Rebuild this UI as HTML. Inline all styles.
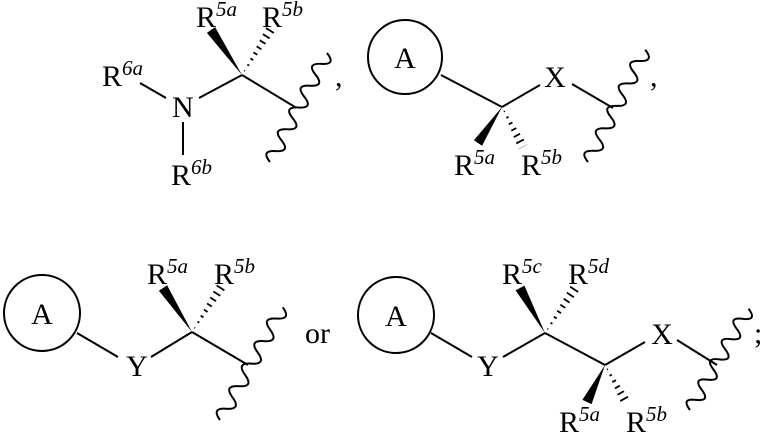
<!DOCTYPE html>
<html><head><meta charset="utf-8"><style>
html,body{margin:0;padding:0;background:#fff;}
svg{display:block;}
text{font-family:"Liberation Serif",serif;font-size:30px;fill:#000;}
.s{font-size:21px;font-style:italic;}
</style></head><body>
<svg width="765" height="434" viewBox="0 0 765 434" xmlns="http://www.w3.org/2000/svg">
<defs>
<clipPath id="h1"><polygon points="242,75 276.3,29.6 267.8,24.4"/></clipPath>
<clipPath id="h2"><polygon points="502,107 527.4,144.6 518.6,149.4"/></clipPath>
<clipPath id="h3"><polygon points="192,332 227.3,286.8 218.8,281.3"/></clipPath>
<clipPath id="h4"><polygon points="545,333 579.1,290.8 570.9,285.3"/></clipPath>
<clipPath id="h5"><polygon points="605,365 631.4,401.5 622.6,406.5"/></clipPath>
</defs>
<g stroke="#000" stroke-width="2" fill="none">
<line x1="140" y1="83" x2="166" y2="98"/>
<line x1="199" y1="98" x2="242" y2="75"/>
<line x1="242" y1="75" x2="295" y2="107"/>
<line x1="183" y1="122" x2="183" y2="155"/>
<circle cx="405" cy="57" r="37"/>
<line x1="441" y1="75" x2="502" y2="107"/>
<line x1="502" y1="107" x2="540" y2="85"/>
<line x1="572" y1="84" x2="613" y2="108"/>
<circle cx="42" cy="313" r="38"/>
<line x1="77" y1="333" x2="118" y2="357"/>
<line x1="151" y1="357" x2="192" y2="332"/>
<line x1="192" y1="332" x2="248" y2="365"/>
<circle cx="396" cy="315" r="38"/>
<line x1="431" y1="333" x2="472" y2="357"/>
<line x1="503" y1="357" x2="545" y2="333"/>
<line x1="545" y1="333" x2="605" y2="365"/>
<line x1="605" y1="365" x2="645" y2="342"/>
<line x1="677" y1="340" x2="717" y2="365"/>
</g>
<g fill="#000">
<polygon points="242,75 215.1,27.1 206.9,32.9"/>
<polygon points="502,107 482.1,145.7 473.9,140.3"/>
<polygon points="192,332 167.1,285.3 158.9,290.7"/>
<polygon points="545,333 524.4,285.6 515.6,290.4"/>
<polygon points="605,365 591.6,404.1 582.4,399.9"/>
</g>
<g stroke="#000" stroke-width="12" stroke-dasharray="1.8 5" stroke-dashoffset="-4">
<line x1="242" y1="75" x2="272" y2="27" clip-path="url(#h1)"/>
<line x1="502" y1="107" x2="523" y2="147" clip-path="url(#h2)"/>
<line x1="192" y1="332" x2="223" y2="284" clip-path="url(#h3)"/>
<line x1="545" y1="333" x2="575" y2="288" clip-path="url(#h4)"/>
<line x1="605" y1="365" x2="627" y2="404" clip-path="url(#h5)"/>
</g>
<g stroke="#000" stroke-width="2" fill="none">
<path transform="translate(270,162) rotate(-62.4)" d="M0,0 q6.15,-14 12.3,0 t12.3,0 t12.3,0 t12.3,0 t12.3,0 t12.3,0 t12.3,0 t12.3,0 t12.3,0 t12.3,0"/>
<path transform="translate(588,162) rotate(-63)" d="M0,0 q6.3,-14 12.6,0 t12.6,0 t12.6,0 t12.6,0 t12.6,0 t12.6,0 t12.6,0 t12.6,0 t12.6,0 t12.6,0"/>
<path transform="translate(220,420) rotate(-60.9)" d="M0,0 q6.45,-14 12.9,0 t12.9,0 t12.9,0 t12.9,0 t12.9,0 t12.9,0 t12.9,0 t12.9,0 t12.9,0 t12.9,0"/>
<path transform="translate(690,410) rotate(-60)" d="M0,0 q5.85,-14 11.7,0 t11.7,0 t11.7,0 t11.7,0 t11.7,0 t11.7,0 t11.7,0 t11.7,0 t11.7,0 t11.7,0"/>
</g>
<text x="102" y="86">R<tspan class="s" dy="-11">6a</tspan></text>
<text x="172" y="117">N</text>
<text x="171" y="185">R<tspan class="s" dy="-11">6b</tspan></text>
<text x="196" y="27">R<tspan class="s" dy="-11">5a</tspan></text>
<text x="262" y="27">R<tspan class="s" dy="-11">5b</tspan></text>
<text x="335" y="86">,</text>
<text x="405" y="68" text-anchor="middle">A</text>
<text x="555" y="87" text-anchor="middle">X</text>
<text x="650" y="86">,</text>
<text x="454" y="175">R<tspan class="s" dy="-11">5a</tspan></text>
<text x="521" y="175">R<tspan class="s" dy="-11">5b</tspan></text>
<text x="42" y="324" text-anchor="middle">A</text>
<text x="137" y="376" text-anchor="middle">Y</text>
<text x="147" y="284">R<tspan class="s" dy="-11">5a</tspan></text>
<text x="214" y="284">R<tspan class="s" dy="-11">5b</tspan></text>
<text x="305" y="343">or</text>
<text x="396" y="326" text-anchor="middle">A</text>
<text x="488" y="376" text-anchor="middle">Y</text>
<text x="662" y="344" text-anchor="middle">X</text>
<text x="754" y="343">;</text>
<text x="502" y="284">R<tspan class="s" dy="-11">5c</tspan></text>
<text x="568" y="284">R<tspan class="s" dy="-11">5d</tspan></text>
<text x="559" y="432">R<tspan class="s" dy="-11">5a</tspan></text>
<text x="626" y="432">R<tspan class="s" dy="-11">5b</tspan></text>
</svg>
</body></html>
